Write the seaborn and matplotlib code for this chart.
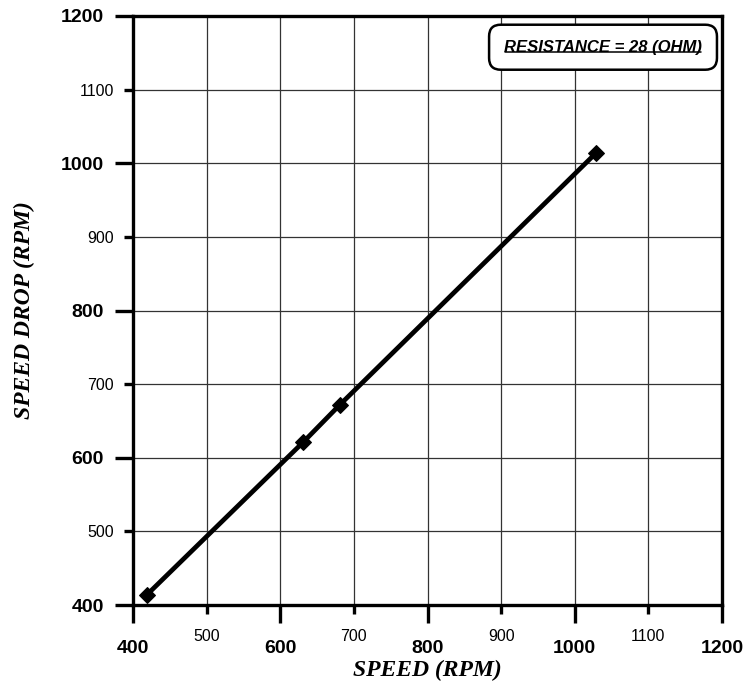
import matplotlib
matplotlib.use("Agg")
import matplotlib.pyplot as plt
import seaborn as sns
import pandas as pd
from matplotlib.ticker import FixedLocator
from matplotlib.lines import Line2D

# Data
speed = [419, 631, 681, 1029]
speed_drop = [414, 621, 672, 1014]
major_ticks = [400, 600, 800, 1000, 1200]
minor_ticks = [500, 700, 900, 1100]
x_label = "SPEED (RPM)"
y_label = "SPEED DROP (RPM)"
note = "RESISTANCE = 28 (OHM)"

sns.set_theme(style="white")
plt.rcParams["font.family"] = ["Liberation Sans", "DejaVu Sans"]

df = pd.DataFrame({"speed": speed, "drop": speed_drop})

fig = plt.figure(figsize=(7.47, 6.91), dpi=100)
ax = fig.add_axes([133 / 747, 1 - 605 / 691, 589 / 747, 589 / 691])

sns.lineplot(data=df, x="speed", y="drop", ax=ax, color="black", linewidth=3.4,
             marker="D", markersize=8, markeredgecolor="black",
             markerfacecolor="black", sort=False)

ax.set_xlim(400, 1200)
ax.set_ylim(400, 1200)
ax.xaxis.set_major_locator(FixedLocator(major_ticks))
ax.xaxis.set_minor_locator(FixedLocator(minor_ticks))
ax.yaxis.set_major_locator(FixedLocator(major_ticks))
ax.yaxis.set_minor_locator(FixedLocator(minor_ticks))
ax.set_xticklabels([str(v) for v in major_ticks])
ax.set_xticklabels([str(v) for v in minor_ticks], minor=True)
ax.set_yticklabels([str(v) for v in major_ticks])
ax.set_yticklabels([str(v) for v in minor_ticks], minor=True)

ax.grid(True, which="both", color="#333333", linewidth=0.9)
ax.set_axisbelow(True)

for s in ax.spines.values():
    s.set_visible(True)
    s.set_color("black")
    s.set_linewidth(2.4)

ax.tick_params(axis="both", which="major", direction="out", length=13, width=2.4,
               color="black", labelsize=14, bottom=True, left=True)
ax.tick_params(axis="x", which="major", pad=12)
ax.tick_params(axis="y", which="major", pad=8)
ax.tick_params(axis="both", which="minor", direction="out", length=6.5, width=2.4,
               color="black", labelsize=11.5, bottom=True, left=True)
ax.tick_params(axis="x", which="minor", pad=11)
ax.tick_params(axis="y", which="minor", pad=7)
for lab in ax.get_xticklabels() + ax.get_yticklabels():
    lab.set_fontweight("bold")
    lab.set_color("black")
for lab in ax.get_xticklabels(minor=True) + ax.get_yticklabels(minor=True):
    lab.set_fontweight("normal")
    lab.set_color("black")

ax.set_xlabel(x_label, fontsize=17, fontweight="bold", fontstyle="italic",
              family=["Liberation Serif", "DejaVu Serif"], color="black")
ax.set_ylabel(y_label, fontsize=17, fontweight="bold", fontstyle="italic",
              family=["Liberation Serif", "DejaVu Serif"], color="black")
ax.xaxis.set_label_coords(0.5, -0.093)
ax.yaxis.set_label_coords(-0.166, 0.5)

t = ax.text(0.798, 0.947, note, transform=ax.transAxes, ha="center", va="center",
            fontsize=12, fontweight="bold", fontstyle="italic", color="black",
            bbox=dict(boxstyle="round,pad=0.9,rounding_size=0.7", facecolor="white",
                      edgecolor="black", linewidth=1.8), zorder=5)

# underline the note
fig.canvas.draw()
bb = t.get_window_extent(renderer=fig.canvas.get_renderer())
inv = fig.transFigure.inverted()
(x0, y0) = inv.transform((bb.x0 + 1, bb.y0 + 3))
(x1, _) = inv.transform((bb.x1 - 1, bb.y0 + 3))
fig.add_artist(Line2D([x0, x1], [y0, y0], color="black", linewidth=1.1,
                      transform=fig.transFigure, zorder=6))

fig.savefig("out.png", dpi=100)
